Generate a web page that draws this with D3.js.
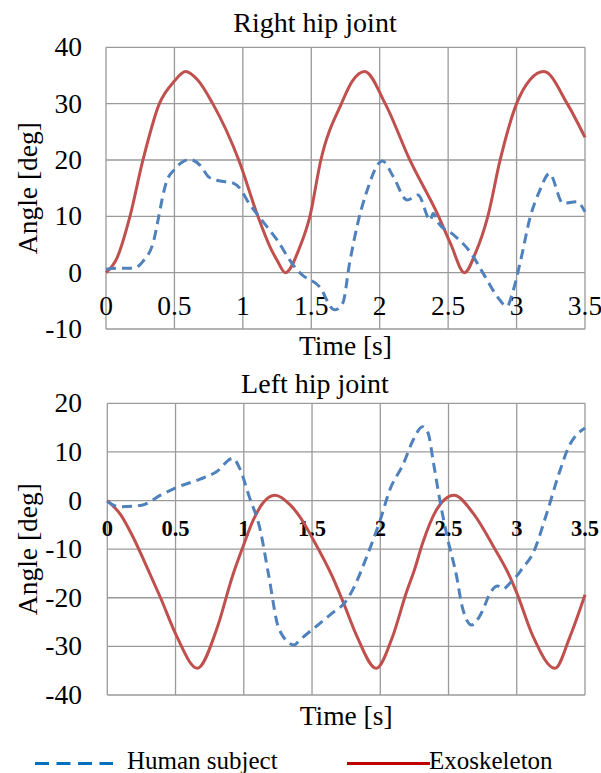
<!DOCTYPE html>
<html>
<head>
<meta charset="utf-8">
<script src="https://d3js.org/d3.v7.min.js"></script>
<style>
  body { margin: 0; background: #fff; }
</style>
</head>
<body>
<div id="chart"></div>
<script>
// hip joint angles

var xTicks = [0, 0.5, 1, 1.5, 2, 2.5, 3, 3.5];
var rightTicks = [-10, 0, 10, 20, 30, 40];
var leftTicks = [-40, -30, -20, -10, 0, 10, 20];

var humanRightT = [0, 0.1, 0.2, 0.27, 0.35, 0.38, 0.41, 0.44, 0.5, 0.55, 0.61, 0.69, 0.75, 0.81, 0.93, 0.99, 1.03, 1.12, 1.25, 1.37, 1.42, 1.56, 1.67, 1.73, 1.78, 1.84, 1.9, 2.02, 2.1, 2.2, 2.28, 2.37, 2.39, 2.43, 2.54, 2.66, 2.77, 2.86, 2.93, 2.97, 3.03, 3.1, 3.17, 3.24, 3.34, 3.44, 3.5];
var humanRight = [0.6, 0.8, 0.8, 2, 5.8, 9.3, 13, 16, 18.3, 19.5, 20.1, 19, 17, 16.4, 15.9, 14.6, 12.9, 9.9, 5.8, 1.3, -0.1, -2.5, -6.6, -5.4, 1.7, 8.8, 14, 19.8, 17, 12.9, 13.8, 9.3, 10.5, 8.8, 6.7, 3.7, -0.7, -4.3, -6, -3.6, 2.2, 9.9, 14.6, 17.6, 12.3, 12.6, 10.8];

var exoRightT = [0, 0.08, 0.175, 0.27, 0.39, 0.5, 0.58, 0.67, 0.78, 0.97, 1.11, 1.2, 1.25, 1.31, 1.417, 1.49, 1.57, 1.72, 1.8, 1.89, 2.04, 2.22, 2.43, 2.52, 2.62, 2.7, 2.79, 2.88, 3.0, 3.1, 3.2, 3.37, 3.5];
var exoRight = [0, 2.6, 10, 20, 30, 34, 35.7, 34.2, 30, 20, 10, 4.5, 2.2, 0, 4.6, 10, 20, 30, 34, 35.7, 30, 20, 10, 5, 0, 3.5, 10, 20, 30, 34.3, 35.7, 30, 24];

var humanLeftT = [0, 0.09, 0.26, 0.39, 0.51, 0.68, 0.8, 0.92, 0.97, 1.04, 1.12, 1.18, 1.26, 1.37, 1.41, 1.56, 1.65, 1.74, 1.81, 1.9, 2.0, 2.07, 2.17, 2.24, 2.31, 2.35, 2.39, 2.44, 2.49, 2.56, 2.6, 2.67, 2.74, 2.81, 2.86, 2.9, 2.95, 3.0, 3.04, 3.12, 3.22, 3.31, 3.38, 3.5];
var humanLeft = [-0.2, -1.3, -0.9, 1.1, 2.7, 4.4, 5.9, 8.7, 6.6, 0.8, -6, -15, -26.6, -29.7, -28.7, -25.2, -23.1, -21, -17.7, -11.6, -4, 2.2, 7.6, 12.4, 15.2, 13.9, 7.7, -0.5, -7.4, -15.7, -21.8, -25.6, -23.2, -18.8, -17.6, -18.2, -17, -15.5, -14, -10.8, -2.6, 5.6, 11, 14.9];

var exoLeftT = [0, 0.1, 0.19, 0.3, 0.39, 0.51, 0.66, 0.8, 0.92, 0.99, 1.07, 1.14, 1.23, 1.34, 1.41, 1.51, 1.65, 1.73, 1.83, 1.97, 2.09, 2.19, 2.25, 2.31, 2.41, 2.54, 2.68, 2.83, 2.95, 3.0, 3.12, 3.28, 3.39, 3.5];
var exoLeft = [0, -3, -7.6, -14.3, -20, -28, -34.5, -26.6, -15.3, -9.8, -4, -0.5, 1.1, -0.9, -3.3, -8.1, -15.7, -21, -28, -34.5, -28, -19, -14.3, -8.8, -2, 1.1, -2.6, -9.5, -15.7, -19, -28, -34.5, -28, -19.4];

var W = 601, H = 773;
var serif = "'Liberation Serif', 'Times New Roman', Tinos, 'DejaVu Serif', serif";
var gridColor = "#9a9a9a",
    humanColor = "#4f81bd",
    exoColor = "#c0504d";

var svg = d3.select("#chart").append("svg")
  .attr("width", W)
  .attr("height", H)
  .attr("font-family", serif);

function zip(ts, vs) {
  return ts.map(function(t, i) { return [t, vs[i]]; });
}

function panel(o) {
  var x = d3.scaleLinear().domain([0, 3.5]).range([o.left, o.right]),
      y = d3.scaleLinear().domain(o.domain).range([o.bottom, o.top]),
      g = svg.append("g");

  // grid
  g.selectAll("line.v").data(xTicks).enter().append("line")
    .attr("x1", function(d) { return x(d); })
    .attr("x2", function(d) { return x(d); })
    .attr("y1", o.top).attr("y2", o.bottom)
    .attr("stroke", gridColor).attr("stroke-width", 1.3);

  g.selectAll("line.h").data(o.ticks).enter().append("line")
    .attr("x1", o.left).attr("x2", o.right)
    .attr("y1", function(d) { return y(d); })
    .attr("y2", function(d) { return y(d); })
    .attr("stroke", gridColor).attr("stroke-width", 1.3);

  // y tick labels
  g.selectAll("text.yt").data(o.ticks).enter().append("text")
    .attr("x", 82)
    .attr("y", function(d) { return y(d) + 9; })
    .attr("text-anchor", "end")
    .attr("font-size", 27.5)
    .text(function(d) { return d; });

  // x tick labels, sitting under the zero line
  g.selectAll("text.xt").data(xTicks).enter().append("text")
    .attr("x", function(d) { return x(d); })
    .attr("y", y(0) + o.xLabelDy)
    .attr("text-anchor", "middle")
    .attr("font-size", o.xLabelSize)
    .attr("font-weight", o.xLabelWeight)
    .text(function(d) { return d; });

  var line = d3.line()
    .x(function(d) { return x(d[0]); })
    .y(function(d) { return y(d[1]); })
    .curve(d3.curveMonotoneX);

  g.append("path")
    .attr("d", line(zip(o.exoT, o.exo)))
    .attr("fill", "none")
    .attr("stroke", exoColor)
    .attr("stroke-width", 3);

  g.append("path")
    .attr("d", line(zip(o.humT, o.hum)))
    .attr("fill", "none")
    .attr("stroke", humanColor)
    .attr("stroke-width", 3)
    .attr("stroke-dasharray", "10,6");

  g.append("text")
    .attr("x", 315).attr("y", o.titleY)
    .attr("text-anchor", "middle")
    .attr("font-size", 28)
    .text(o.title);

  g.append("text")
    .attr("x", (o.left + o.right) / 2).attr("y", o.timeY)
    .attr("text-anchor", "middle")
    .attr("font-size", 27.5)
    .text("Time [s]");

  g.append("text")
    .attr("transform", "translate(37," + ((o.top + o.bottom) / 2) + ") rotate(-90)")
    .attr("text-anchor", "middle")
    .attr("font-size", 27.5)
    .text("Angle [deg]");
}

panel({
  title: "Right hip joint", titleY: 32, timeY: 355,
  left: 106, right: 585, top: 47.3, bottom: 329,
  domain: [-10, 40], ticks: rightTicks,
  xLabelDy: 42, xLabelSize: 27.5, xLabelWeight: "normal",
  humT: humanRightT, hum: humanRight, exoT: exoRightT, exo: exoRight
});

panel({
  title: "Left hip joint", titleY: 393, timeY: 725,
  left: 107.3, right: 585, top: 403.3, bottom: 695,
  domain: [-40, 20], ticks: leftTicks,
  xLabelDy: 35, xLabelSize: 22.5, xLabelWeight: "bold",
  humT: humanLeftT, hum: humanLeft, exoT: exoLeftT, exo: exoLeft
});

// legend
var legend = svg.append("g");

legend.append("line")
  .attr("x1", 35).attr("x2", 113).attr("y1", 763.5).attr("y2", 763.5)
  .attr("stroke", "#0070c0").attr("stroke-width", 3)
  .attr("stroke-dasharray", "14,7.5");

legend.append("text")
  .attr("x", 127).attr("y", 769)
  .attr("font-size", 25)
  .text("Human subject");

legend.append("line")
  .attr("x1", 347).attr("x2", 430).attr("y1", 763.5).attr("y2", 763.5)
  .attr("stroke", "#c00000").attr("stroke-width", 3);

legend.append("text")
  .attr("x", 429).attr("y", 769)
  .attr("font-size", 25)
  .text("Exoskeleton");
</script>
</body>
</html>
